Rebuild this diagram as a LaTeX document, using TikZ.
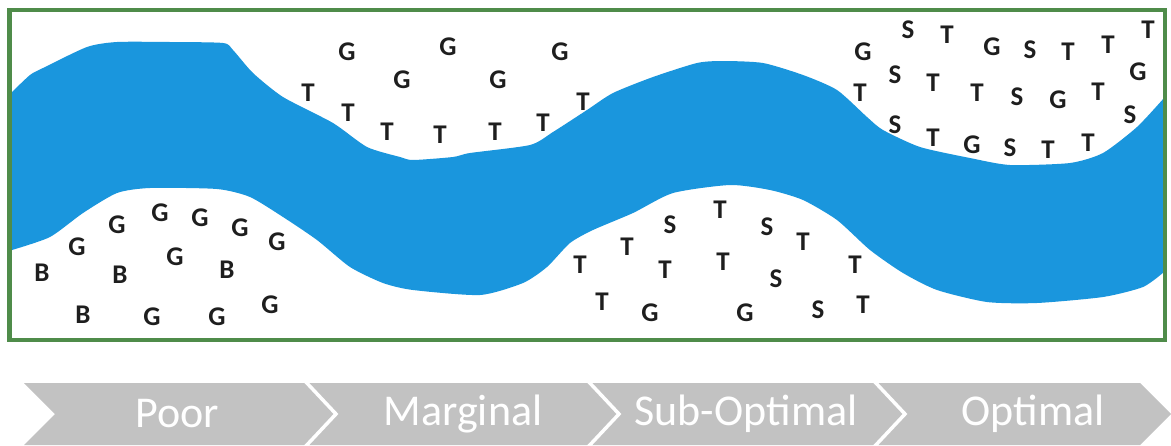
\documentclass[tikz,border=0pt]{standalone}
\usepackage{fontspec}
\setmainfont{Carlito}
\definecolor{river}{HTML}{1A96DD}
\definecolor{frame}{HTML}{4F8C4A}
\definecolor{band}{HTML}{C2C2C2}
\definecolor{ink}{HTML}{1E1E1E}
\tikzset{
  lt/.style={font=\fontsize{27}{27}\selectfont\bfseries, text=ink, inner sep=0pt},
  stage/.style={font=\fontsize{44}{44}\selectfont, text=white, inner sep=0pt},
  sep/.style={draw=white, line width=3.5pt, line join=miter}
}
\begin{document}
\begin{tikzpicture}[x=1pt,y=-1pt]
\useasboundingbox (0,0) rectangle (1171,445);
\fill[white] (0,0) rectangle (1171,445);

% river
\fill[river] plot[smooth, tension=0.4] coordinates {
  (12,92) (30,75) (43,68) (87,47) (117,42) (170,42) (223,43) (233,50) (253,73)
  (283,97) (333,123) (367,147) (400,157) (413,160) (453,157) (470,153)
  (530,145) (553,132) (587,110) (613,93) (653,77) (697,63) (723,61) (763,63)
  (803,75) (837,90) (867,117) (883,130) (920,147) (970,158) (1010,165)
  (1070,163) (1103,153) (1137,127) (1164,98)}
  -- (1164,272)
  -- plot[smooth, tension=0.4] coordinates {
  (1164,272) (1143,287) (1103,297) (1037,303) (987,302) (937,290) (903,273)
  (870,250) (837,220) (803,200) (770,190) (730,185) (673,193) (633,213)
  (593,230) (570,243) (547,267) (523,283) (480,295) (413,290) (383,283)
  (350,267) (317,240) (283,217) (250,197) (217,189) (150,188) (117,193)
  (83,213) (50,237) (12,250)} -- cycle;

% frame
\draw[frame, line width=4.5pt] (9.5,10) rectangle (1165,340);

% letters, upper left bank
\node[lt] (a1) at (347,52) {G};
\node[lt] (a2) at (448,47) {G};
\node[lt] (a3) at (560,52) {G};
\node[lt] (a4) at (402,80) {G};
\node[lt] (a5) at (498,80) {G};
\node[lt] (a6) at (308,93) {T};
\node[lt] (a7) at (348,113) {T};
\node[lt] (a8) at (387,132) {T};
\node[lt] (a9) at (440,135) {T};
\node[lt] (a10) at (495,132) {T};
\node[lt] (a11) at (543,123) {T};
\node[lt] (a12) at (583,102) {T};

% letters, lower left bank
\node[lt] (b1) at (160,213) {G};
\node[lt] (b2) at (200,218) {G};
\node[lt] (b3) at (117,225) {G};
\node[lt] (b4) at (240,228) {G};
\node[lt] (b5) at (277,242) {G};
\node[lt] (b6) at (77,247) {G};
\node[lt] (b7) at (175,257) {G};
\node[lt] (b8) at (42,273) {B};
\node[lt] (b9) at (120,275) {B};
\node[lt] (b10) at (227,270) {B};
\node[lt] (b11) at (83,315) {B};
\node[lt] (b12) at (152,317) {G};
\node[lt] (b13) at (217,317) {G};
\node[lt] (b14) at (270,305) {G};

% letters, lower middle bank
\node[lt] (c1) at (720,210) {T};
\node[lt] (c2) at (670,225) {S};
\node[lt] (c3) at (767,227) {S};
\node[lt] (c4) at (803,242) {T};
\node[lt] (c5) at (627,247) {T};
\node[lt] (c6) at (580,265) {T};
\node[lt] (c7) at (665,270) {T};
\node[lt] (c8) at (723,262) {T};
\node[lt] (c9) at (776,279) {S};
\node[lt] (c10) at (855,265) {T};
\node[lt] (c11) at (602,302) {T};
\node[lt] (c12) at (650,313) {G};
\node[lt] (c13) at (745,313) {G};
\node[lt] (c14) at (818,310) {S};
\node[lt] (c15) at (863,305) {T};

% letters, upper right bank
\node[lt] (d1) at (908,30) {S};
\node[lt] (d2) at (947,35) {T};
\node[lt] (d3) at (863,52) {G};
\node[lt] (d4) at (992,47) {G};
\node[lt] (d5) at (1030,50) {S};
\node[lt] (d6) at (1068,52) {T};
\node[lt] (d7) at (1108,45) {T};
\node[lt] (d8) at (1148,30) {T};
\node[lt] (d9) at (895,75) {S};
\node[lt] (d10) at (933,83) {T};
\node[lt] (d11) at (977,93) {T};
\node[lt] (d12) at (1017,97) {S};
\node[lt] (d13) at (1058,100) {G};
\node[lt] (d14) at (1098,92) {T};
\node[lt] (d15) at (1138,72) {G};
\node[lt] (d16) at (860,93) {T};
\node[lt] (d17) at (895,125) {S};
\node[lt] (d18) at (933,138) {T};
\node[lt] (d19) at (972,145) {G};
\node[lt] (d20) at (1010,148) {S};
\node[lt] (d21) at (1048,150) {T};
\node[lt] (d22) at (1088,143) {T};
\node[lt] (d23) at (1130,115) {S};

% stage band
\fill[band] (24,383) -- (1140,383) -- (1171,414) -- (1140,445) -- (24,445) -- (55,414) -- cycle;
\draw[sep] (305,381) -- (336,414) -- (305,447);
\draw[sep] (588,381) -- (619,414) -- (588,447);
\draw[sep] (874,381) -- (905,414) -- (874,447);

\node[stage] (s1) at (177,414) {Poor};
\node[stage] (s2) at (463,414) {Marginal};
\node[stage] (s3) at (746,414) {Sub-Optimal};
\node[stage] (s4) at (1033,414) {Optimal};
\end{tikzpicture}
\end{document}
